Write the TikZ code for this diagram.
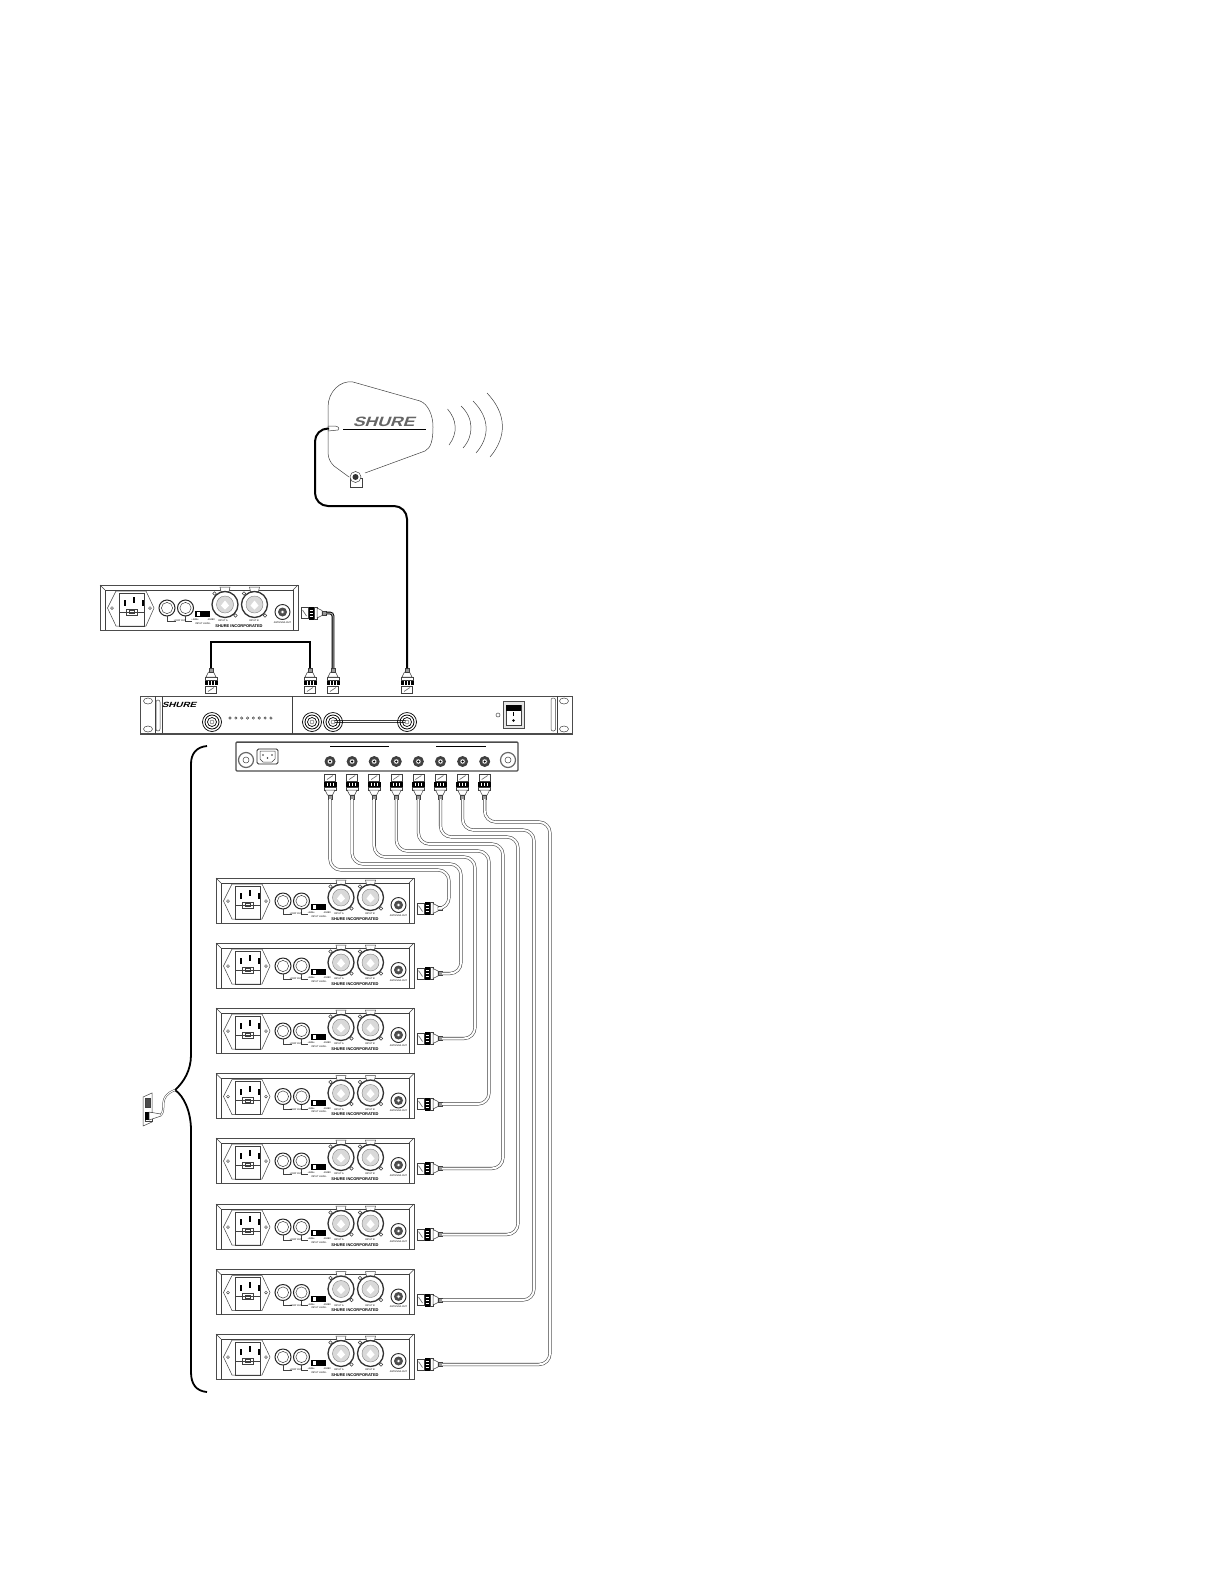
\documentclass[tikz,border=0pt]{standalone}
\usepackage{fontspec}
\setmainfont{Liberation Sans}
\newfontfamily\logofont[FakeSlant=0.35,FakeStretch=1.3]{Liberation Sans}
\tikzset{
    lbl/.style={inner sep=0pt, font=\fontsize{2.4}{2.6}\selectfont},
    thinpart/.style={draw=black!75, line width=0.5pt},
    panelline/.style={draw=black!70, line width=0.8pt},
    cable/.style={draw=black!75, line width=0.55pt, double=white, double distance=2pt, rounded corners=11pt},
    blackcable/.style={draw=black, line width=2pt, rounded corners=13pt},
    jumper/.style={draw=black, line width=0.9pt, double=black!35, double distance=1pt, rounded corners=3pt},
    bncplug/.pic={
        \filldraw[thinpart, fill=white] (-5.5,0) rectangle (5.5,-7);
        \draw[black!60, line width=0.6pt] (-3,-1.5) -- (3,-5.5);
        \fill[black] (-6.5,-8) rectangle (6.5,-13);
        \foreach \sx in {-3,0,3} \draw[white, line width=0.6pt] (\sx,-8.5) -- (\sx,-12);
        \filldraw[thinpart, fill=white] (-6,-13) rectangle (6,-16);
        \filldraw[thinpart, fill=white] (-5,-16) -- (-2.5,-21) -- (2.5,-21) -- (5,-16) -- cycle;
        \filldraw[thinpart, fill=black!40] (-2,-21) rectangle (2,-25);
        \coordinate (-tip) at (0,-25);
    },
    bncjack/.pic={
        \draw[black, line width=0.7pt] (0,0) circle (9.5);
        \draw[black, line width=0.8pt] (0,0) circle (7);
        \draw[black, line width=0.7pt] (0,0) circle (4.5);
        \filldraw[black!70, fill=white] (0,0) circle (2);
    },
    rearjack/.pic={
        \fill[black!75] (0,0) circle (5.5);
        \filldraw[white, draw=black!60] (0,0) circle (2.5);
        \fill[black] (0,0) circle (1.2);
    },
    xlrcombo/.pic={
        \filldraw[thinpart, fill=white] (-5,-17.5) -- (-4,-13) -- (4,-13) -- (5,-17.5) -- cycle;
        \filldraw[black!80, fill=white, line width=1.3pt] (0,0) circle (13);
        \filldraw[black!50, fill=black!15] (0,0) circle (8.5);
        \fill[white] (-4,1) -- (0,-4) -- (4,1) -- (0,5) -- cycle;
        \filldraw[thinpart, fill=white] (-10.5,-11) circle (1.8);
        \filldraw[thinpart, fill=white] (10.5,11) circle (1.8);
    },
    rearpanel/.pic={
        % ==== HOUSING ====
        \draw[panelline] (0,0) rectangle (198,45);
        \draw[thinpart] (5,45) -- (5,5) -- (193,5) -- (193,45);
        \draw[thinpart] (0,0) -- (5,5);
        \draw[thinpart] (198,0) -- (193,5);
        % ==== POWER INLET ====
        \draw[thinpart] (7.5,23) -- (16,6) -- (46,6) -- (54,23) -- (46,41) -- (16,41) -- cycle;
        \draw[thinpart] (19,8) rectangle (44,41);
        \draw[thinpart] (19,27) -- (44,27);
        \foreach \px/\py in {24.5/18, 33.5/15, 43/18} \fill[black] (\px-1,\py-3) rectangle (\px+1,\py+3);
        \draw[thinpart] (26,24) rectangle (37,30);
        \draw[thinpart] (29,25.5) rectangle (34,28.5);
        \draw[thinpart] (12,23) circle (1.4);
        \draw[thinpart] (50,23) circle (1.4);
        % ==== LOOP JACKS ====
        \foreach \jx in {67,85.5} {
            \draw[black!85, line width=1pt] (\jx,23) circle (8);
            \draw[thinpart] (\jx,23) circle (5.6);
        }
        \draw[thinpart] (67,31) -- (67,36) -- (76,36);
        \draw[thinpart] (85.5,31) -- (85.5,36) -- (92,36);
        \node[lbl] (looplbl) at (80,36) {LOOP OUT};
        % ==== LEVEL SWITCH ====
        \fill[black] (95,26) rectangle (110,32);
        \fill[white] (96.5,27) rectangle (100,31);
        \node[lbl] (lowlbl) at (95,35) {+4dBu};
        \node[lbl] (highlbl) at (111,35) {-10dBV};
        \node[lbl] (levellbl) at (103,38.5) {INPUT LEVEL};
        % ==== INPUT CONNECTORS ====
        \pic at (125,19.5) {xlrcombo};
        \pic at (154.5,19.5) {xlrcombo};
        \node[lbl] (inalbl) at (123,36) {INPUT A};
        \node[lbl] (inblbl) at (154,36) {INPUT B};
        \node[lbl, font=\fontsize{4}{4.4}\selectfont\bfseries] (makerlbl) at (139,41) {SHURE INCORPORATED};
        % ==== ANTENNA OUT ====
        \filldraw[black!85, fill=white, line width=0.9pt] (182.5,27) circle (7.5);
        \fill[black!70] (182.5,27) circle (4.5);
        \filldraw[white, draw=black!60] (182.5,27) circle (1.8);
        \node[lbl] (antlbl) at (182.5,37.5) {ANTENNA OUT};
    }
}
\begin{document}
\begin{tikzpicture}[x=1pt, y=-1pt]
    \useasboundingbox (0,0) rectangle (1224,1584);

    % ==== DEFINITIONS ====
    \def\ShiftX{22.1} % spacing of splitter outputs
    \def\PlugX{417} % left end of the receiver plugs

    % ==== ANTENNA ====
    \draw[thinpart] (328,430) -- (328,407) .. controls (328,392) and (340,380) .. (353,382)
        -- (420,401) .. controls (428,404) and (433,415) .. (433,427)
        .. controls (433,440) and (431,448) .. (425,451) -- (365,473);
    \draw[thinpart] (349,477) -- (334,466) .. controls (330,462) and (328,458) .. (328,452) -- (328,430);
    \draw[black, line width=1pt] (343,429.5) -- (426,429.5);
    \node[inner sep=0pt, text=black!60, font=\logofont\bfseries\fontsize{13.5}{14}\selectfont] (antlogo) at (383.5,422) {SHURE};
    \filldraw[thinpart, fill=white] (350,478) -- (350,487) -- (362,487) -- (362,478) -- cycle;
    \filldraw[thinpart, fill=white] (355.5,477) circle (5.5);
    \fill[black!80] (355.5,477) circle (3);
    \filldraw[thinpart, fill=white] (328,426) -- (334,426) .. controls (338,426) and (340,428) .. (338,430)
        -- (328,431) -- cycle;
    \coordinate (antport) at (329,428.5);

    % ==== WAVES ====
    \draw[thinpart] (447.5,409) .. controls (457,420) and (458,433) .. (449,445);
    \draw[thinpart] (461,406) .. controls (474,418) and (474,436) .. (463,448);
    \draw[thinpart] (473,401) .. controls (490,418) and (490,437) .. (476,453);
    \draw[thinpart] (487,393) .. controls (507,414) and (507,437) .. (490,457);

    % ==== TOP RECEIVER ====
    \pic (rxtop) at (100,585) {rearpanel};
    \pic (plugtop) [rotate=-90] at (301,613) {bncplug};

    % ==== RACK UNIT ====
    \draw[panelline] (140,696) rectangle (572,734);
    \draw[black!70, line width=1.6pt] (140,696.5) -- (572,696.5);
    \draw[black!70, line width=1.2pt] (140,733.5) -- (572,733.5);
    \draw[thinpart] (155,696) -- (155,734);
    \draw[thinpart] (557,696) -- (557,734);
    \draw[thinpart] (292,696) -- (292,734);
    \draw[thinpart] (162,697) -- (162,733);
    \foreach \ex in {148,564} {
        \draw[thinpart] (\ex,701) ellipse (4.5 and 3);
        \draw[thinpart] (\ex,729) ellipse (4.5 and 3);
    }
    \draw[thinpart, rounded corners=2pt] (156,700) rectangle (160,731);
    \draw[thinpart, rounded corners=2pt] (551,698) rectangle (555.5,731);
    \node[inner sep=0pt, font=\logofont\bfseries\fontsize{7.5}{8}\selectfont] (racklogo) at (179,705) {SHURE};
    \pic at (212,722) {bncjack};
    \foreach \i in {0,...,7} \filldraw[thinpart, fill=white] (230+5.85*\i,718) circle (1.2);
    \draw[thinpart, line width=1pt, double=white, double distance=1pt] (333,721.5) -- (407,721.5);
    \pic at (312,722) {bncjack};
    \pic at (333,722) {bncjack};
    \pic at (407,722) {bncjack};
    \draw[thinpart] (498,715) circle (2);
    \filldraw[black!70, fill=black!10, line width=0.8pt] (503,701) rectangle (524,728);
    \filldraw[thinpart, fill=white] (506,705) rectangle (521,725);
    \fill[black] (506,705) rectangle (521,711);
    \draw[black] (513.5,712) -- (513.5,716);
    \fill[black] (513.5,720.5) circle (1.4);

    % ==== PLUGS ON RACK UNIT ====
    \foreach \n/\xp in {a/211, b/310, c/333, d/407} \pic (plug\n) at (\xp,693) {bncplug};

    % ==== RACK CABLES ====
    \coordinate (linkl) at (211,642);
    \coordinate (linkr) at (310,642);
    \draw[black, line width=1.8pt] (pluga-tip) -- (linkl) -- (linkr) -- (plugb-tip);
    \coordinate (jumpc) at (plugc-tip |- plugtop-tip);
    \draw[jumper] (plugtop-tip) -- (jumpc) -- (plugc-tip);
    \coordinate (antbl) at (315,506);
    \coordinate (antbr) at (407,506);
    \coordinate (antup) at (315,428.5);
    \draw[blackcable] (antport) -- (antup) -- (antbl) -- (antbr) -- (plugd-tip);

    % ==== SPLITTER ====
    \draw[black!70, line width=1.1pt, rounded corners=1pt] (236,742) rectangle (518,771);
    \draw[black!70, line width=1.2pt] (236,742.5) -- (518,742.5);
    \draw[black, line width=0.8pt] (330,746.5) -- (389,746.5);
    \draw[black, line width=0.8pt] (436,746.5) -- (486,746.5);
    \foreach \kx in {246,508} {
        \draw[black!60, line width=1.2pt] (\kx,760) circle (7.5);
        \draw[thinpart] (\kx,760) circle (3);
    }
    \draw[black!85, line width=0.8pt, rounded corners=1.5pt] (257,749) rectangle (278,764);
    \draw[thinpart] (260,751) -- (275,751) -- (275,759) -- (272,762) -- (263,762) -- (260,759) -- cycle;
    \foreach \dx/\dy in {263/755, 267.5/758, 272/755} \fill[black!80] (\dx,\dy) circle (0.9);

    % ==== RECEIVERS AND THEIR CABLES ====
    \foreach \i/\rowy/\xe/\yh in {0/878/449/870, 1/943/461/864, 2/1008/475/857, 3/1073.5/489/851,
            4/1138/503/844, 5/1204/518/837, 6/1269.5/534/830, 7/1334/550/822} {
        \pic at (330+\ShiftX*\i,761.5) {rearjack};
        \pic (out\i) [rotate=180] at (330+\ShiftX*\i,774) {bncplug};
        \pic at (216,\rowy) {rearpanel};
        \pic (in\i) [rotate=-90] at (\PlugX,\rowy+30.5) {bncplug};
        \coordinate (h\i) at (\xe,\yh);
        \draw[cable] (out\i-tip) -- (out\i-tip |- h\i) -- (h\i) -- (h\i |- in\i-tip) -- (in\i-tip);
    }

    % ==== BRACE ====
    \draw[black, line width=1.8pt] (207,746) .. controls (196,747) and (191,754) .. (191,764) -- (191,1055)
        .. controls (191,1070) and (184,1082) .. (175,1090)
        .. controls (184,1096) and (191,1112) .. (191,1130) -- (191,1372)
        .. controls (191,1384) and (196,1391) .. (207,1392);

    % ==== WALL OUTLET ====
    \coordinate (bracetip) at (175,1090);
    \draw[thinpart] (143,1097) -- (152,1093) -- (152,1122) -- (143,1126) -- cycle;
    \filldraw[thinpart, fill=black!70] (145,1098) rectangle (150,1107);
    \filldraw[thinpart, fill=white] (145,1112) rectangle (152,1121);
    \coordinate (outletplug) at (161,1115);
    \fill[black] (145,1112) rectangle (149,1120);
    \draw[thinpart, fill=white] (149,1112) -- (161,1114) -- (161,1116) -- (149,1120) -- cycle;
    \draw[black!70, line width=0.5pt, double=white, double distance=1pt] (outletplug) .. controls (167,1108) and (157,1097) .. (bracetip);
\end{tikzpicture}
\end{document}
